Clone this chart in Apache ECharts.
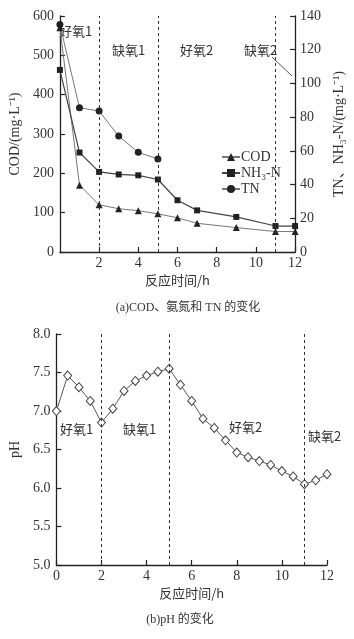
<!DOCTYPE html>
<html lang="zh">
<head>
  <meta charset="UTF-8">
  <title>COD、氨氮、TN 和 pH 的变化</title>
  <style>
    html, body { margin: 0; padding: 0; background: #fff; }
    #chart { width: 354px; height: 639px; }
  </style>
</head>
<body>
  <div id="chart"></div>
  <script src="https://cdn.jsdelivr.net/npm/echarts@6/dist/echarts.min.js"></script>
  <script>
// 数据
const hours = [0, 1, 2, 3, 4, 5, 6, 7, 9, 11, 12];
const codVals = [570, 170, 120, 110, 105, 97, 87, 73, 62, 52, 52];
const nh3Vals = [108, 59, 47.5, 46, 45.5, 43, 30.7, 24.7, 20.8, 15.4, 15.4];
const tnHours = [0, 1, 2, 3, 4, 5];
const tnVals = [135, 85.6, 83.6, 68.8, 59.1, 55.2];
const phHours = [0, 0.5, 1, 1.5, 2, 2.5, 3, 3.5, 4, 4.5, 5, 5.5, 6, 6.5, 7, 7.5, 8, 8.5, 9, 9.5, 10, 10.5, 11, 11.5, 12];
const phVals = [7.0, 7.46, 7.31, 7.13, 6.85, 7.03, 7.26, 7.39, 7.46, 7.51, 7.55, 7.34, 7.13, 6.90, 6.78, 6.62, 6.46, 6.40, 6.35, 6.30, 6.22, 6.15, 6.05, 6.10, 6.18];
const dividers = [2, 5, 11];

const serif = '"Liberation Serif", "Noto Sans CJK SC", serif';
const cjk = '"Noto Sans CJK SC", sans-serif';
const txt = '#333';
const axisStyle = { lineStyle: { color: '#222', width: 1.3 } };
const tickStyle = { inside: true, length: 5, lineStyle: { color: '#222', width: 1.2 } };
const labelStyle = { color: txt, fontFamily: serif, fontSize: 14 };

const pairs = (xs, ys) => xs.map((x, i) => [x, ys[i]]);

const dashLine = {
  silent: true,
  symbol: 'none',
  label: { show: false },
  lineStyle: { color: '#333', type: [3, 3], width: 1 },
  data: dividers.map(d => ({ xAxis: d }))
};

let chart = echarts.init(document.getElementById('chart'));

function xAxisFor(idx, showZero) {
  return {
    type: 'value', gridIndex: idx, min: 0, max: 12, interval: 2,
    name: '反应时间/h', nameLocation: 'middle', nameGap: 22,
    nameTextStyle: { color: txt, fontFamily: cjk, fontSize: 13 },
    axisLine: axisStyle, axisTick: tickStyle, splitLine: { show: false },
    axisLabel: Object.assign({ margin: 4, showMinLabel: showZero }, labelStyle)
  };
}

function phaseText(x, y, s) {
  return { type: 'text', x: x, y: y, style: { text: s, fill: txt, font: '13px ' + cjk, textVerticalAlign: 'middle' } };
}

chart.setOption({
  animation: false,
  grid: [
    { left: 53, right: 52, top: 16, height: 236 },
    { left: 54, right: 27, top: 334, height: 231 }
  ],
  legend: {
    orient: 'vertical', left: 216, top: 145,
    itemWidth: 18, itemHeight: 10, itemGap: 2,
    textStyle: { color: txt, fontFamily: serif, fontSize: 14, padding: [0, 0, 0, -4] },
    data: ['COD', 'NH₃-N', 'TN']
  },
  xAxis: [xAxisFor(0, false), xAxisFor(1, true)],
  yAxis: [
    {
      type: 'value', gridIndex: 0, min: 0, max: 600, interval: 100,
      name: 'COD/(mg·L⁻¹)', nameLocation: 'middle', nameGap: 34, nameRotate: 90,
      nameTextStyle: { color: txt, fontFamily: serif, fontSize: 14 },
      axisLine: axisStyle, axisTick: tickStyle, splitLine: { show: false },
      axisLabel: Object.assign({ margin: 6 }, labelStyle)
    },
    {
      type: 'value', gridIndex: 0, position: 'right', min: 0, max: 140, interval: 20,
      name: 'TN、NH₃-N/(mg·L⁻¹)', nameLocation: 'middle', nameGap: 30, nameRotate: 90,
      nameTextStyle: { color: txt, fontFamily: serif, fontSize: 14 },
      axisLine: axisStyle, axisTick: tickStyle, splitLine: { show: false },
      axisLabel: Object.assign({ margin: 5 }, labelStyle)
    },
    {
      type: 'value', gridIndex: 1, min: 5, max: 8, interval: 0.5,
      name: 'pH', nameLocation: 'middle', nameGap: 32, nameRotate: 90,
      nameTextStyle: { color: txt, fontFamily: serif, fontSize: 14 },
      axisLine: axisStyle, axisTick: tickStyle, splitLine: { show: false },
      axisLabel: Object.assign({ margin: 6, formatter: v => v.toFixed(1) }, labelStyle)
    }
  ],
  series: [
    {
      name: 'COD', type: 'line', xAxisIndex: 0, yAxisIndex: 0,
      data: pairs(hours, codVals),
      symbol: 'triangle', symbolSize: 7,
      lineStyle: { color: '#777', width: 1 },
      itemStyle: { color: '#222' },
      markLine: dashLine
    },
    {
      name: 'NH₃-N', type: 'line', xAxisIndex: 0, yAxisIndex: 1,
      data: pairs(hours, nh3Vals),
      symbol: 'rect', symbolSize: 6,
      lineStyle: { color: '#444', width: 1.2 },
      itemStyle: { color: '#222' }
    },
    {
      name: 'TN', type: 'line', xAxisIndex: 0, yAxisIndex: 1,
      data: pairs(tnHours, tnVals),
      symbol: 'circle', symbolSize: 7,
      lineStyle: { color: '#777', width: 1 },
      itemStyle: { color: '#222' }
    },
    {
      name: 'pH', type: 'line', xAxisIndex: 1, yAxisIndex: 2,
      data: pairs(phHours, phVals),
      symbol: 'diamond', symbolSize: [8, 9],
      lineStyle: { color: '#555', width: 1 },
      itemStyle: { color: '#fff', borderColor: '#444', borderWidth: 1 },
      markLine: dashLine
    }
  ],
  graphic: [
    phaseText(59, 31, '好氧1'),
    phaseText(112, 50, '缺氧1'),
    phaseText(180, 50, '好氧2'),
    phaseText(244, 50, '缺氧2'),
    { type: 'line', shape: { x1: 272, y1: 57, x2: 292, y2: 76 }, style: { stroke: '#555', lineWidth: 1 } },
    phaseText(60, 429, '好氧1'),
    phaseText(123, 429, '缺氧1'),
    phaseText(229, 427, '好氧2'),
    phaseText(308, 436, '缺氧2'),
    { type: 'text', x: 188, y: 308, style: { text: '(a)COD、氨氮和 TN 的变化', fill: txt, font: '12px ' + serif, textAlign: 'center', textVerticalAlign: 'middle' } },
    { type: 'text', x: 180, y: 620, style: { text: '(b)pH 的变化', fill: txt, font: '12px ' + serif, textAlign: 'center', textVerticalAlign: 'middle' } }
  ]
});
  </script>
</body>
</html>
